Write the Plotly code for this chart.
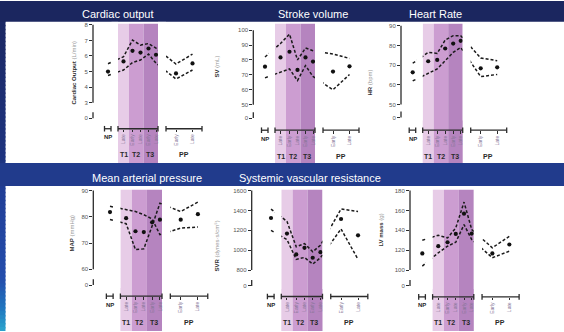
import plotly.graph_objects as go

W, H = 564, 332

# ---------------- data ----------------
categories = ["NP", "T1 Late", "T2 Early", "T2 Late", "T3 Early", "T3 Late", "PP Early", "PP Late"]
tick_labels = ["Late", "Early", "Late", "Early", "Late", "Early", "Late"]   # for categories[1:]
period_labels = ["T1", "T2", "T3", "PP"]

co_mean = [5.0, 5.65, 6.33, 6.22, 6.48, 6.08, 4.88, 5.52]
co_upper = [5.5, 5.95, 7.02, 6.7, 6.8, 6.5, 5.48, 6.12]
co_lower = [4.75, 5.1, 5.58, 5.74, 6.12, 5.54, 4.52, 5.1]

sv_mean = [75.5, 81.7, 85.5, 73.3, 81.7, 78.9, 72.2, 75.7]
sv_upper = [82, 91, 97.3, 80, 88, 86.2, 84, 81]
sv_lower = [68, 71.5, 74, 66.2, 76.2, 68.9, 60, 70.2]

hr_mean = [66.4, 72, 72.7, 78.5, 81, 82.4, 68.4, 68.9]
hr_upper = [71, 76.5, 76, 82.8, 85, 85, 73.7, 72.3]
hr_lower = [62, 65.9, 68.1, 72.3, 76.5, 79, 64.2, 65.3]

map_mean = [81.8, 79.5, 74.5, 74.2, 77.9, 78.9, 78.9, 81]
map_upper = [84, 82.7, 82, 80.8, 79.2, 73.2, 75.7, 76.1]
map_lower = [79, 77.4, 67.5, 67.8, 76.5, 85.2, 82, 85.6]

svr_mean = [1324, 1167, 957, 1024, 924, 980, 1314, 1150]
svr_upper = [1414, 1290, 1034, 1067, 984, 1050, 1414, 1390]
svr_lower = [1200, 1107, 907, 927, 860, 924, 1214, 907]

lv_mean = [116.7, 124, 128, 136.4, 156.7, 136.7, 116.7, 125.7]
lv_upper = [130, 135, 132.3, 142.4, 168.4, 140.7, 122.4, 134]
lv_lower = [104, 117.4, 124, 128, 145.7, 130.7, 112.4, 119]

# ---------------- layout helpers ----------------
cat_pos = dict(zip(categories, [0, 15.5, 24.5, 32.5, 40.5, 48, 68, 84.5]))
period_pos = [15.5, 28.3, 42.0, 75.5]
bands = [(10, 21, "#e7cce7"), (21, 35.5, "#cc9dd1"), (35.5, 50, "#b584bf")]
segments = [(-3.5, 3), (10, 50), (58, 94)]
FONT = "Liberation Sans, Arial, sans-serif"

panels = [
    dict(title="Cardiac output", tx=118, ty=13, ylab="<b>Cardiac Output</b> <span style='color:#999'>(L/min)</span>",
         lx=74, ly=72, mean=co_mean, up=co_upper, lo=co_lower,
         ax=93, np=108, sc=1.0, axy=128.5, ticks=[3, 4, 5, 6, 7, 8], eff0=2.0, toppx=24, ppu=15.66,
         shade=(23, 163)),
    dict(title="Stroke volume", tx=313, ty=13, ylab="<b>SV</b> <span style='color:#999'>(mL)</span>",
         lx=217, ly=66, mean=sv_mean, up=sv_upper, lo=sv_lower,
         ax=253.3, np=265, sc=1.0, axy=130, ticks=[50, 60, 70, 80, 90, 100], eff0=41, toppx=29.3, ppu=1.5,
         shade=(23, 163)),
    dict(title="Heart Rate", tx=435, ty=13, ylab="<b>HR</b> <span style='color:#999'>(bpm)</span>",
         lx=370, ly=82, mean=hr_mean, up=hr_upper, lo=hr_lower,
         ax=401, np=412.7, sc=1.0, axy=130, ticks=[50, 60, 70, 80, 90], eff0=43.4, toppx=25, ppu=1.98,
         shade=(23, 163)),
    dict(title="Mean arterial pressure", tx=147, ty=178, ylab="<b>MAP</b> <span style='color:#999'>(mmHg)</span>",
         lx=72, ly=234, mean=map_mean, up=map_upper, lo=map_lower,
         ax=93.3, np=110, sc=1.04, axy=297, ticks=[60, 70, 80, 90], eff0=54, toppx=190.7, ppu=2.643,
         shade=(190, 332)),
    dict(title="Systemic vascular resistance", tx=310, ty=178,
         ylab="<b>SVR</b> <span style='color:#999'>(dynes·s/cm⁵)</span>",
         lx=217, ly=246, mean=svr_mean, up=svr_upper, lo=svr_lower,
         ax=251.7, np=271, sc=1.03, axy=297.3, ticks=[800, 1000, 1200, 1400, 1600], eff0=640, toppx=190.7, ppu=0.1,
         shade=(190, 332)),
    dict(title=None, ylab="<b>LV mass</b> <span style='color:#999'>(g)</span>",
         lx=381, ly=230, mean=lv_mean, up=lv_upper, lo=lv_lower,
         ax=410, np=422.3, sc=1.03, axy=297.7, ticks=[100, 120, 140, 160, 180], eff0=84, toppx=190.7, ppu=1.0,
         shade=(190, 332)),
]


def py(y):
    return 1 - y / H


fig = go.Figure()
shapes = []
annotations = []

# ---------------- background ----------------
stops = [(0, (27, 38, 95)), (160, (30, 52, 128)), (190, (33, 62, 150)), (280, (36, 78, 172)),
         (310, (32, 120, 192)), (332, (45, 165, 205))]


def grad(y):
    for (y0, c0), (y1, c1) in zip(stops[:-1], stops[1:]):
        if y0 <= y <= y1:
            t = (y - y0) / (y1 - y0)
            return "rgb(%d,%d,%d)" % tuple(round(a + (b - a) * t) for a, b in zip(c0, c1))
    return "rgb(%d,%d,%d)" % stops[-1][1]


step = 4
for y in range(0, H, step):
    shapes.append(dict(type="rect", xref="paper", yref="paper", x0=0, x1=5.5 / W,
                       y0=max(0, py(y + step + 1.5)), y1=py(y), fillcolor=grad(y + step / 2),
                       line=dict(width=0), layer="below"))
shapes.append(dict(type="rect", xref="paper", yref="paper", x0=0, x1=1, y0=py(21), y1=1,
                   fillcolor="#1b265f", line=dict(width=0), layer="below"))
shapes.append(dict(type="rect", xref="paper", yref="paper", x0=0, x1=1, y0=py(186), y1=py(163),
                   fillcolor="#213b8c", line=dict(width=0), layer="below"))

AX = "#2b2b2b"
for i, p in enumerate(panels, start=1):
    xa = "x" if i == 1 else f"x{i}"
    ya = "y" if i == 1 else f"y{i}"
    xkey = "xaxis" if i == 1 else f"xaxis{i}"
    ykey = "yaxis" if i == 1 else f"yaxis{i}"

    rel_left = (p["ax"] - p["np"]) / p["sc"]
    rel_right = 97
    dom_x = [p["ax"] / W, (p["np"] + rel_right * p["sc"]) / W]
    top = p["ticks"][-1]
    pad = 2.0
    ylo = p["eff0"] - pad / p["ppu"]
    yhi = top + pad / p["ppu"]
    bot_px = p["toppx"] + (top - ylo) * p["ppu"]
    top_px = p["toppx"] - pad

    fig.update_layout({
        xkey: dict(domain=dom_x, range=[rel_left, rel_right], anchor="free", position=py(p["axy"]),
                   tickvals=[cat_pos[c] for c in categories[1:]], ticktext=tick_labels,
                   tickangle=-90, ticks="outside", ticklen=2.5, tickwidth=1, tickcolor=AX,
                   showline=False, showgrid=False, zeroline=False,
                   tickfont=dict(size=5, color="#857596", family=FONT), fixedrange=True),
        ykey: dict(domain=[py(bot_px), py(top_px)], range=[ylo, yhi], anchor=xa,
                   tickvals=[p["eff0"]] + p["ticks"], ticktext=["0"] + [str(t) for t in p["ticks"]],
                   ticks="outside", ticklen=3, tickwidth=1, tickcolor=AX,
                   showline=False, showgrid=False, zeroline=False,
                   tickfont=dict(size=6, color="#555", family=FONT), fixedrange=True),
    })

    xs = [cat_pos[c] for c in categories]
    dash_line = dict(color="#1a1a1a", width=1.5, dash="3px,2px")
    fig.add_trace(go.Scatter(x=xs, y=p["up"], mode="lines", line=dash_line, xaxis=xa, yaxis=ya,
                             hoverinfo="skip", showlegend=False))
    fig.add_trace(go.Scatter(x=xs, y=p["lo"], mode="lines", line=dash_line, xaxis=xa, yaxis=ya,
                             hoverinfo="skip", showlegend=False))
    fig.add_trace(go.Scatter(x=xs, y=p["mean"], mode="markers", marker=dict(size=4.2, color="#111"),
                             xaxis=xa, yaxis=ya, showlegend=False, text=categories))

    # trimester shading
    for a, b, col in bands:
        shapes.append(dict(type="rect", xref=xa, yref="paper", x0=a, x1=b,
                           y0=py(p["shade"][1]), y1=py(p["shade"][0]),
                           fillcolor=col, line=dict(width=0), layer="below"))
    # axis breaks: hide connecting lines in the gaps
    for a, b in [(3.5, 10), (50, 58)]:
        shapes.append(dict(type="rect", xref=xa, yref="paper", x0=a, x1=b,
                           y0=py(bot_px + 1), y1=py(top_px - 1),
                           fillcolor="white", line=dict(width=0), layer="above"))
    # broken x axis segments with end caps
    for a, b in segments:
        shapes.append(dict(type="line", xref=xa, yref="paper", x0=a, x1=b,
                           y0=py(p["axy"]), y1=py(p["axy"]), line=dict(color=AX, width=1.3)))
        for e in (a, b):
            shapes.append(dict(type="line", xref=xa, yref="paper", x0=e, x1=e,
                               y0=py(p["axy"] + 2.8), y1=py(p["axy"] - 2.8), line=dict(color=AX, width=1.3)))
    # broken y axis
    shapes.append(dict(type="line", xref=f"{xa} domain", yref=ya, x0=0, x1=0,
                       y0=p["ticks"][0], y1=top, line=dict(color=AX, width=1.3)))
    shapes.append(dict(type="line", xref=f"{xa} domain", yref=ya, x0=0, x1=0,
                       y0=p["eff0"], y1=p["eff0"] + 6 / p["ppu"], line=dict(color=AX, width=1.3)))

    C = dict(showarrow=False, xanchor="center", yanchor="middle")
    # period labels
    annotations.append(dict(x=cat_pos["NP"], y=py(p["axy"] + 8.5), xref=xa, yref="paper", text="<b>NP</b>",
                            font=dict(size=6, color="#2a2a2a", family=FONT), **C))
    for lab, xp in zip(period_labels, period_pos):
        annotations.append(dict(x=xp, y=py(p["axy"] + 26), xref=xa, yref="paper", text=f"<b>{lab}</b>",
                                font=dict(size=7, color="#2a2a2a", family=FONT), **C))
    # y label
    annotations.append(dict(x=p["lx"] / W, y=py(p["ly"]), xref="paper", yref="paper", text=p["ylab"],
                            textangle=-90, font=dict(size=6, color="#333", family=FONT), **C))
    # panel title
    if p["title"]:
        annotations.append(dict(x=p["tx"] / W, y=py(p["ty"]), xref="paper", yref="paper", text=p["title"],
                                font=dict(size=11, color="white", family=FONT), **C))

fig.update_layout(width=W, height=H, margin=dict(l=0, r=0, t=0, b=0), autosize=False,
                  paper_bgcolor="white", plot_bgcolor="rgba(0,0,0,0)",
                  shapes=shapes, annotations=annotations, showlegend=False,
                  font=dict(family=FONT))

fig.write_html("out.html", config={"displayModeBar": False},
               post_script="document.body.style.margin='0';")
